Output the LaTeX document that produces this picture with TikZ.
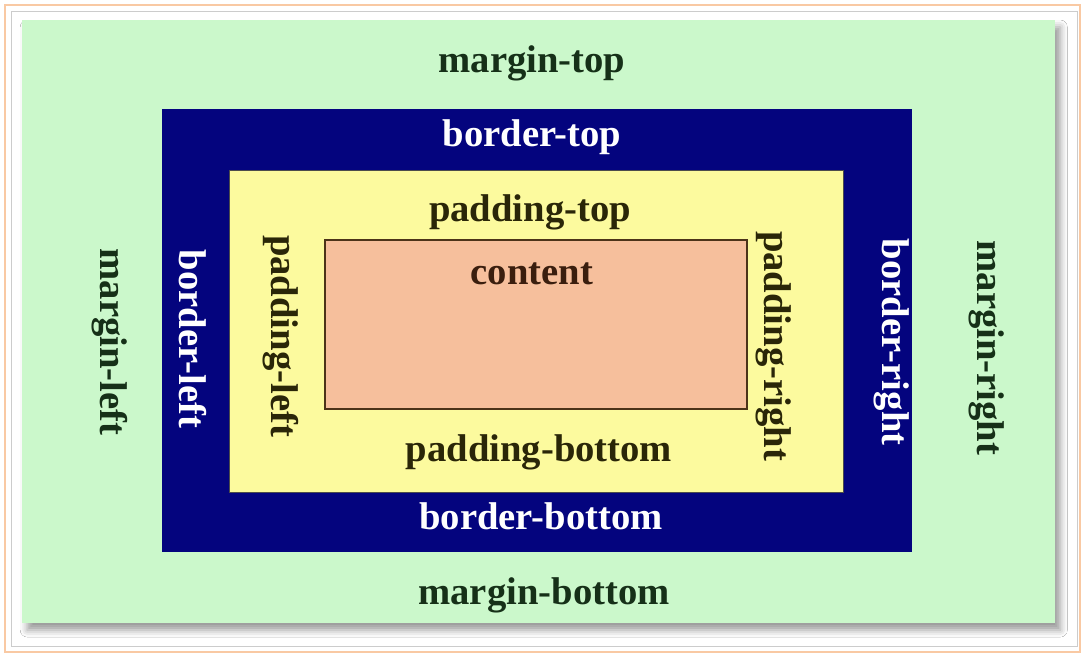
\documentclass[tikz,border=0pt]{standalone}
\usepackage{fontspec}
\setmainfont{Liberation Serif}
\usetikzlibrary{positioning}
\usetikzlibrary{shadows.blur}
\definecolor{frame}{HTML}{F9C9A3}
\definecolor{mint}{HTML}{CBF8CB}
\definecolor{navy}{HTML}{04047E}
\definecolor{cream}{HTML}{FCFA9E}
\definecolor{salmon}{HTML}{F6BF9C}
\definecolor{mintink}{HTML}{163018}
\definecolor{creamink}{HTML}{2A2608}
\definecolor{salmonink}{HTML}{3A1E0E}

\begin{document}
\begin{tikzpicture}[x=0.02cm, y=-0.02cm,
    boxtext/.style={font=\fontsize{22}{26}\selectfont\bfseries, inner sep=0pt, anchor=base},
    sidetext/.style={font=\fontsize{22}{26}\selectfont\bfseries, inner sep=0pt, rotate=-90}]
    \useasboundingbox (0,0) rectangle (1090,658);
    % frame
    \fill[white] (0,0) rectangle (1090,658);
    \draw[frame, line width=1.5pt] (5,5) rectangle (1080,652);
    \draw[black!20, line width=0.5pt] (11,11) rectangle (1077,646);
    % margin
    \path[fill=mint, blur shadow={shadow xshift=3pt, shadow yshift=-4pt, shadow blur radius=4pt}]
        (22,20) rectangle (1055,623);
    % border
    \fill[navy] (162,109) rectangle (912,552);
    % padding
    \draw[black!70, fill=cream, line width=0.4pt] (229,170) rectangle (843,492);
    % content
    \draw[black!60!brown, fill=salmon, line width=1pt] (325,240) rectangle (747,409);
    % labels
    \node[boxtext, text=mintink] (mtop) at (532,73) {margin-top};
    \node[boxtext, text=white] (btop) at (532,147) {border-top};
    \node[boxtext, text=creamink] (ptop) at (530,222) {padding-top};
    \node[boxtext, text=salmonink] (content) at (532,285) {content};
    \node[boxtext, text=creamink] (pbottom) at (539,462) {padding-bottom};
    \node[boxtext, text=white] (bbottom) at (541,530) {border-bottom};
    \node[boxtext, text=mintink] (mbottom) at (544,605) {margin-bottom};
    \node[sidetext, text=mintink] (mleft) at (110,342) {margin-left};
    \node[sidetext, text=white] (bleft) at (193,339) {border-left};
    \node[sidetext, text=creamink] (pleft) at (281,336) {padding-left};
    \node[sidetext, text=creamink] (pright) at (774,346) {padding-right};
    \node[sidetext, text=white] (bright) at (892,342) {border-right};
    \node[sidetext, text=mintink] (mright) at (987,348) {margin-right};
\end{tikzpicture}
\end{document}
